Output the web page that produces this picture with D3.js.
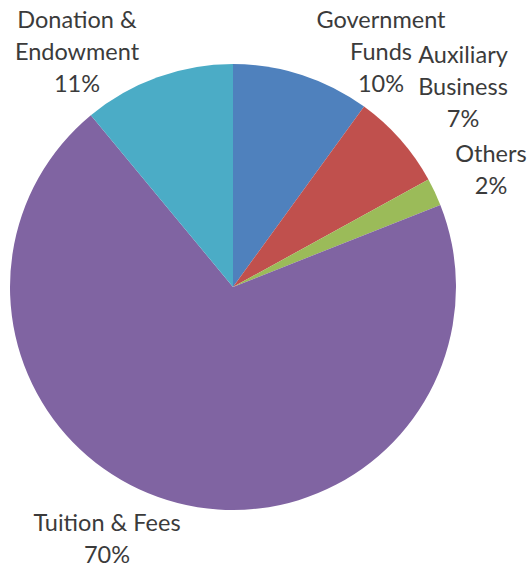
<meta charset="utf-8">
<script src="https://d3js.org/d3.v7.min.js"></script>
<style>
  body { margin: 0; background: #fff; }
  text { font-family: Lato, "Open Sans", sans-serif; fill: #3b3b3b; }
</style>
<svg width="529" height="565"></svg>
<script>
// slices clockwise from 12 o'clock
var categories = ["Government Funds", "Auxiliary Business", "Others", "Tuition & Fees", "Donation & Endowment"];
var shares = [10, 7, 2, 70, 11];
var labelLines = [["Government", "Funds", "10%"], ["Auxiliary", "Business", "7%"], ["Others", "2%"], ["Tuition & Fees", "70%"], ["Donation &", "Endowment", "11%"]];

var colors = ["#4F81BD", "#C0504D", "#9BBB59", "#8064A2", "#4BACC6"];
// label anchor (centre x, first baseline y)
var labelAt = [[381, 28], [463, 63], [491, 162], [107, 531], [77, 28]];

var svg = d3.select("svg");
var cx = 233, cy = 287, r = 223;

var pie = d3.pie().sort(null).value(function(d) { return d; });
var arc = d3.arc().innerRadius(0).outerRadius(r);

var g = svg.append("g").attr("transform", "translate(" + cx + "," + cy + ")");
g.selectAll("path")
    .data(pie(shares))
    .enter()
    .append("path")
    .attr("d", arc)
    .attr("fill", function(d, i) { return colors[i]; });

var labels = svg.append("g")
    .selectAll("text")
    .data(labelLines)
    .enter()
    .append("text")
    .attr("text-anchor", "middle")
    .attr("font-size", 23.5)
    .attr("transform", function(d, i) { return "translate(" + labelAt[i][0] + "," + labelAt[i][1] + ")"; });

labels.selectAll("tspan")
    .data(function(d) { return d; })
    .enter()
    .append("tspan")
    .attr("x", 0)
    .attr("y", function(d, j) { return j * 32; })
    .text(function(d) { return d; });
</script>
